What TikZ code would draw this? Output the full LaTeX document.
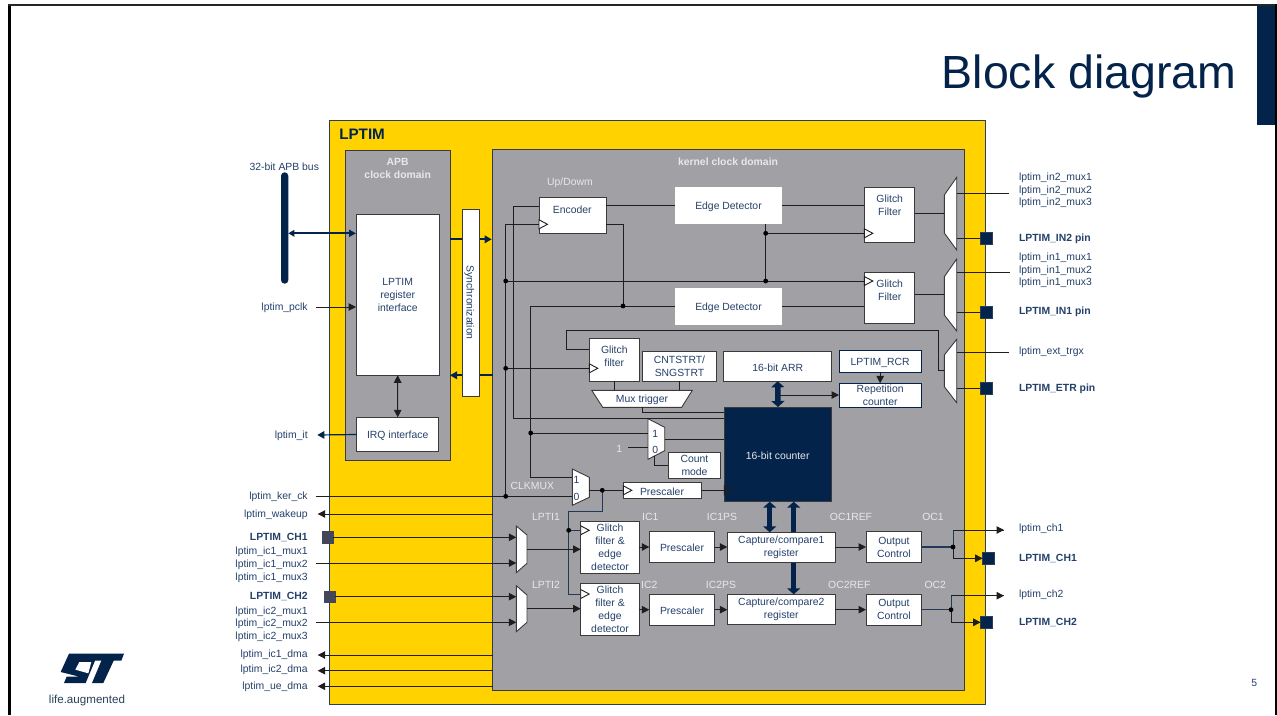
\documentclass[tikz,border=0pt]{standalone}
\usepackage{fontspec}
\setmainfont{Liberation Sans}
\usetikzlibrary{arrows.meta,calc}
\definecolor{navy}{HTML}{03234B}
\definecolor{inktext}{HTML}{24406A}
\definecolor{stgray}{HTML}{A1A0A4}
\definecolor{styellow}{HTML}{FFD200}
\definecolor{ink}{HTML}{1E1E1E}
\definecolor{edge}{HTML}{3A3A3A}
\definecolor{softwhite}{HTML}{E8E8E8}
\definecolor{pingray}{HTML}{44465A}
\tikzset{
  txt/.style={font=\fontsize{10.4}{13}\selectfont,text=inktext,inner sep=0pt,outer sep=0pt,align=center,
    execute at begin node={\rule{0pt}{10pt}},execute at end node={\rule[-.5pt]{0pt}{.5pt}}},
  btxt/.style={txt,font=\fontsize{10.4}{13}\selectfont\bfseries},
  wtxt/.style={txt,text=softwhite},
  wbtxt/.style={btxt,text=softwhite},
  ghost/.style={txt},
  domainbox/.style={fill=stgray,draw=edge,line width=1pt},
  outerbox/.style={fill=styellow,draw=navy!70!gray,line width=.8pt},
  plainbox/.style={txt,fill=white,draw=edge,line width=1pt},
  bareb/.style={txt,fill=white},
  navybox/.style={txt,fill=white,draw=navy,line width=1pt},
  solidbox/.style={fill=navy,draw=edge,line width=.8pt},
  pin/.style={fill=navy,draw=navy!70!gray,line width=.6pt},
  graypin/.style={fill=pingray,draw=pingray,line width=.6pt},
  busbar/.style={fill=navy,rounded corners=3.6pt},
  wire/.style={draw=ink,line width=1pt},
  wireA/.style={wire,-{Triangle[length=7.5pt,width=7.5pt]}},
  wireAA/.style={wire,{Triangle[length=7.5pt,width=7.5pt]}-{Triangle[length=7.5pt,width=7.5pt]}},
  bluewire/.style={draw=navy!75!gray,line width=1pt},
  thick2/.style={draw=navy,line width=1.7pt},
  thick2A/.style={thick2,-{Triangle[length=7pt,width=7.5pt]}},
  thick2AA/.style={thick2,{Triangle[length=6pt,width=6.5pt]}-{Triangle[length=7pt,width=7pt]}},
  fat/.style={draw=navy,line width=5.5pt,{Triangle[length=6pt,width=13pt]}-{Triangle[length=6pt,width=13pt]}},
  muxshape/.style={fill=white,draw=edge,line width=.9pt},
  clkt/.style={fill=white,draw=ink,line width=.9pt},
  clkd/.style={draw=ink,line width=.9pt},
  dot/.style={fill=black},
}
\newcommand{\bx}[7]{%
  \pgfmathsetmacro{\bxcx}{(#3+#5)/2}\pgfmathsetmacro{\bxcy}{(#4+#6)/2}%
  \pgfmathsetmacro{\bxw}{#5-#3}\pgfmathsetmacro{\bxh}{#6-#4}%
  \node[#1,minimum width=\bxw pt,minimum height=\bxh pt,inner sep=0pt,outer sep=0pt] (#2) at (\bxcx,\bxcy) {#7};}
\newcommand{\mx}[7]{%
  \pgfmathsetmacro{\mxt}{min(#4,#6)}\pgfmathsetmacro{\mxb}{max(#5,#7)}%
  \draw[muxshape] (#2,#4) -- (#3,#6) -- (#3,#7) -- (#2,#5) -- cycle;%
  \bx{ghost}{#1}{#2}{\mxt}{#3}{\mxb}{}}
\newcommand{\clk}[1]{\draw[clkt,shift={(#1)}] (0,-4.5) -- (8.5,0) -- (0,4.5) -- cycle;}
\begin{document}
\begin{tikzpicture}[x=1pt,y=-1pt]
\useasboundingbox (0,0) rectangle (1277,715);
\fill[white] (0,0) rectangle (1277,715);
% slide frame
\fill[navy] (1257,6) rectangle (1275,125);
\draw[black,line width=3pt] (9.5,715) -- (9.5,5.2);
\draw[black!85,line width=2.4pt] (8,5.2) -- (1276.5,5.2);
\draw[black,line width=2pt] (1275.8,4) -- (1275.8,715);
\node[font=\fontsize{46.5}{50}\selectfont,text=navy,inner sep=0pt,anchor=base east] (title) at (1236.5,88) {Block diagram};
\node[txt] (pageno) at (1254.3,681.3) {5};
% logo
\begin{scope}[shift={(45,648)},x=.3333pt,y=-.3333pt]
\fill[navy] (72,17) -- (237,17) -- (229,38) -- (150,38) -- (122,105) -- (57,105) -- (65,86) -- (103,86) -- (47,72) -- cycle;
\fill[white] (103,42) -- (91,65) -- (130,76) -- (139,42) -- cycle;
\fill[navy] (170,36) -- (207,36) -- (175,105) -- (141,105) -- cycle;
\node[font=\fontsize{11.6}{12}\selectfont,text=navy!70!gray,inner sep=0pt] (logotext) at (126,157) {life.augmented};
\end{scope}
% containers
\bx{outerbox}{lptim}{329.5}{120}{985.7}{704}{}
\bx{domainbox}{apb}{345.7}{150.7}{450}{460.7}{}
\bx{domainbox}{kernel}{492.7}{149}{964}{690.7}{}
\node[txt,font=\fontsize{15.2}{17}\selectfont\bfseries,text=navy,anchor=west] (lptimT) at (339.3,134.5) {LPTIM};
\node[wbtxt] (apbT) at (397.7,168.8) {APB\\clock domain};
\node[wbtxt] (kernelT) at (728,160.3) {kernel clock domain};
% APB side
\bx{busbar}{bus}{281}{172.3}{288.3}{283.7}{}
\bx{plainbox}{reg}{356}{214.3}{439.3}{375.3}{}
\node[txt] (regT) at (397.7,295.3) {LPTIM\\register\\interface};
\bx{plainbox}{irq}{356.7}{417.3}{438.7}{451.7}{IRQ interface}
\node[txt] (busT) at (284.3,165.3) {32-bit APB bus};
\node[txt,anchor=east] (pclkT) at (307.7,307) {lptim\_pclk};
\coordinate (pclkS) at (315.7,307);
\node[txt,anchor=east] (itT) at (307.7,435) {lptim\_it};
\coordinate (itE) at (317.3,435);
\draw[thick2AA] (bus.east |- 0,233.3) -- (reg.west |- 0,233.3);
\draw[wireA] (pclkS) -- (reg.west |- pclkS);
\draw[wireAA] (reg.south) -- (irq.north);
\draw[thick2A,line width=1.2pt] (irq.west) -- (itE);
% sync
\draw[thick2A] (apb.east |- 0,239.3) -- ($(kernel.west |- 0,239.3)+(-1,0)$);
\draw[thick2A] (kernel.west |- 0,375.3) -- (apb.east |- 0,375.3);
\bx{plainbox}{sync}{462.3}{209.3}{479.3}{396.3}{}
\node[txt,rotate=-90] (syncT) at (470.5,302.7) {Synchronization};
% top blocks
\bx{plainbox}{enc}{539}{197}{606.3}{233.3}{}
\node[txt] (encT) at (572.3,208.3) {Encoder};
\node[wtxt] (updown) at (570,181.3) {Up/Dowm};
\bx{bareb}{edgeA}{675}{187}{782}{224}{Edge Detector}
\bx{bareb}{edgeB}{675}{288}{782}{325}{Edge Detector}
\bx{plainbox}{gfA}{864.3}{187.7}{914.7}{242.7}{}
\node[txt] (gfAT) at (889.7,205.8) {Glitch\\Filter};
\bx{plainbox}{gfB}{864.3}{272.3}{914.7}{323.3}{}
\node[txt] (gfBT) at (889.7,290.7) {Glitch\\Filter};
\mx{muxA}{944.3}{956.7}{195}{233}{177.3}{250}
\mx{muxB}{944.3}{956.7}{276.7}{315}{259}{331}
\mx{muxC}{944.3}{956.7}{355}{386.7}{339.3}{402.7}
\bx{pin}{pinA}{980}{232}{992}{244.7}{}
\bx{pin}{pinB}{980}{306}{992}{318}{}
\bx{pin}{pinC}{980}{382}{992}{394}{}
\node[txt,anchor=west] (a1) at (1019,176.3) {lptim\_in2\_mux1};
\node[txt,anchor=west] (a2) at (1019,189.3) {lptim\_in2\_mux2};
\node[txt,anchor=west] (a3) at (1019,201.3) {lptim\_in2\_mux3};
\node[btxt,anchor=west] (a4) at (1019,237.3) {LPTIM\_IN2 pin};
\node[txt,anchor=west] (b1) at (1019,256.3) {lptim\_in1\_mux1};
\node[txt,anchor=west] (b2) at (1019,269.3) {lptim\_in1\_mux2};
\node[txt,anchor=west] (b3) at (1019,281.3) {lptim\_in1\_mux3};
\node[btxt,anchor=west] (b4) at (1019,310.3) {LPTIM\_IN1 pin};
\node[txt,anchor=west] (c1) at (1019,350.3) {lptim\_ext\_trgx};
\node[btxt,anchor=west] (c4) at (1019,387.3) {LPTIM\_ETR pin};
\coordinate (inA) at (1009,193);
\coordinate (inB) at (1010,272.3);
\coordinate (inC) at (1009,352.3);
\draw[wire] (muxA.east |- inA) -- (inA);
\draw[wire] (muxB.east |- inB) -- (inB);
\draw[wire] (muxC.east |- inC) -- (inC);
\draw[wire] (muxA.east |- pinA) -- (pinA.west);
\draw[wire] (muxB.east |- pinB) -- (pinB.west);
\draw[wire] (muxC.east |- pinC) -- (pinC.west);
\draw[wire] (gfA.east |- 0,213.3) -- (muxA.west |- 0,213.3);
\draw[wire] (gfB.east |- 0,294.7) -- (muxB.west |- 0,294.7);
% middle blocks
\bx{plainbox}{gfC}{589.3}{338.7}{639.7}{381.3}{}
\node[txt] (gfCT) at (614.3,356.8) {Glitch\\filter};
\bx{plainbox}{cnt}{642.7}{351.3}{716.3}{381.3}{CNTSTRT/\\SNGSTRT}
\bx{plainbox}{arr}{723.7}{351.3}{831.7}{381.3}{16-bit ARR}
\bx{navybox}{rcr}{839}{350.3}{921.3}{372}{LPTIM\_RCR}
\bx{navybox}{rep}{839}{383.3}{921.3}{407.3}{Repetition\\counter}
\bx{solidbox}{counter}{724.3}{407}{831.7}{501.7}{}
\node[wtxt] (counterT) at (777.7,454.5) {16-bit counter};
\draw[fill=white,draw=edge,line width=.9pt] (591.7,390.3) -- (692.3,390.3) -- (681.7,407.3) -- (602.7,407.3) -- cycle;
\bx{ghost}{trig}{591.7}{390.3}{692.3}{407.3}{Mux trigger}
\mx{muxD}{648}{664.7}{418.7}{459.3}{427.3}{450.7}
\node[txt] (d1) at (655.3,432.7) {1};
\node[txt] (d0) at (655.3,448.3) {0};
\node[wtxt] (one) at (619.3,447.3) {1};
\bx{plainbox}{mode}{668.3}{452.7}{720.7}{478}{Count\\mode}
\mx{muxE}{572.3}{589.3}{469}{505.3}{477.3}{497.3}
\node[txt] (e1) at (576.5,478.3) {1};
\node[txt] (e0) at (576.5,495.3) {0};
\node[wtxt] (clkmux) at (532.3,485) {CLKMUX};
\bx{plainbox}{preT}{623.3}{482}{701.7}{498.7}{}
\node[txt] (preTT) at (662,491) {Prescaler};
% wires, top half
\coordinate (dA) at (505.7,281);
\coordinate (dB) at (505.7,368.3);
\coordinate (dK) at (505.7,496.3);
\coordinate (dC) at (623,306);
\coordinate (dD) at (765.7,233.3);
\coordinate (dE) at (765.7,281);
\coordinate (dF) at (530.7,433);
\coordinate (dG) at (602.3,490.3);
\coordinate (kerS) at (315.7,496.3);
\draw[wire] (enc.east |- 0,205.7) -- (edgeA.west |- 0,205.7);
\draw[wire] (edgeA.east |- 0,205.7) -- (gfA.west |- 0,205.7);
\draw[wire] (enc.east |- 0,224.3) -| (dC);
\draw[wire] (edgeB.west |- dC) -| (dF) |- (muxE.west |- 0,477.3);
\draw[wire] (edgeB.east |- dC) -- (gfB.west |- dC);
\draw[wire] (enc.west |- 0,206.3) -| (513.7,418) -- (counter.west |- 0,418);
\draw[wire] (enc.west |- 0,224.3) -| (dK);
\draw[wire] (dA) -- (gfB.west |- dA);
\draw[wire] (dD |- edgeA.south) -- (dE);
\draw[wire] (dD) -- (gfA.west |- dD);
\draw[wire] (dB) -- (gfC.west |- dB);
\draw[wire] (gfC.west |- 0,349.3) -| (566.3,330.3) -| (938,370.3) -- (muxC.west |- 0,370.3);
\draw[wire] (gfC.south) -- (trig.north -| gfC.south);
\draw[wire] (cnt.south) -- (trig.north -| cnt.south);
\draw[wire] (trig.south) |- (counter.west |- 0,412.3);
\draw[wire] (dF) -- (muxD.west |- dF);
\draw[wire] (one.east) ++(6,0) -- (muxD.west |- one);
\draw[wire] (muxD.east |- 0,439) -- (counter.west |- 0,439);
\draw[wire] (654.7,456) |- (mode.west |- 0,465);
\draw[wire] (kerS) -- (muxE.west |- kerS);
\draw[wire] (muxE.east |- dG) -- (preT.west |- dG);
\draw[wire] (preT.east |- dG) -- (counter.west |- dG);
\draw[wireA] (rcr.south) -- (rep.north);
\draw[wireA] (777.7,395) -- (rep.west |- 0,395);
\draw[fat] (arr.south) -- (counter.north);
\clk{enc.west |- 0,224.3}
\clk{gfA.west |- dD}
\clk{gfB.west |- dA}
\clk{gfC.west |- dB}
\clk{preT.west |- dG}
\draw[clkd,shift={(counter.west |- dG)}] (0,-4.5) -- (8.5,0) -- (0,4.5) -- cycle;
\node[txt,anchor=east] (kerT) at (307.7,495.3) {lptim\_ker\_ck};
% lower blocks
\bx{plainbox}{geA}{580.7}{521.3}{639.3}{573.3}{}
\node[txt] (geAT) at (610,547.3) {Glitch\\filter \&\\edge\\detector};
\bx{plainbox}{geB}{580.7}{583.3}{639.3}{635.3}{}
\node[txt] (geBT) at (610,609.8) {Glitch\\filter \&\\edge\\detector};
\bx{plainbox}{preA}{649.3}{531.7}{714.7}{562.7}{Prescaler}
\bx{plainbox}{preB}{649.3}{594.3}{714.7}{625}{Prescaler}
\bx{plainbox}{ccB}{727.3}{594.3}{835.3}{624.7}{Capture/compare2\\register}
\draw[fat] (793.7,501.7) -- (793.7,594.3);
\bx{plainbox}{ccA}{727.3}{532.3}{835.3}{562}{Capture/compare1\\register}
\draw[fat] (769.7,501.7) -- (769.7,532.3);
\bx{plainbox}{ocA}{866}{531.7}{921.7}{562.7}{Output\\Control}
\bx{plainbox}{ocB}{866}{594.3}{921.7}{625}{Output\\Control}
\mx{muxF}{516.3}{527}{526}{572.7}{535}{563.3}
\mx{muxG}{516.3}{527}{585.7}{631.7}{595}{622.3}
\bx{graypin}{pinL}{322.3}{531}{333}{543.3}{}
\bx{graypin}{pinM}{324.3}{591}{335.3}{602.7}{}
\bx{pin}{pinR}{982.7}{552}{994}{564}{}
\bx{pin}{pinS}{980.7}{616.3}{992}{628.3}{}
\foreach \nm/\xx/\yy/\tt in {lf/650.3/516/IC1,lg/722/516/IC1PS,lh/851/516/OC1REF,li/933/516/OC1,lj/546/516/LPTI1,lk/546/584/LPTI2,ll/649.3/584/IC2,lm/721/584/IC2PS,ln/849.3/584/OC2REF,lo/935.3/584/OC2}
  {\node[wtxt] (\nm) at (\xx,\yy) {\tt};}
\coordinate (dH) at (568.7,530.3);
\coordinate (dI) at (953,547);
\coordinate (dJ) at (951,609.7);
\coordinate (outA) at (1004,530);
\coordinate (outB) at (1004,595.7);
\draw[bluewire] (dG) |- (dH |- 0,511) -- (dH) |- (geB.west |- 0,594);
\draw[bluewire] (dH) -- (geA.west |- dH);
\clk{geA.west |- dH}
\clk{geB.west |- 0,594}
\draw[wireA] (pinL.east |- 0,537.3) -- (muxF.west |- 0,537.3);
\draw[wireA] (316.3,563) -- (muxF.west |- 0,563);
\draw[wireA] (pinM.east |- 0,596.7) -- (muxG.west |- 0,596.7);
\draw[wireA] (316.3,622.3) -- (muxG.west |- 0,622.3);
\draw[wireA] (muxF.east |- 0,549.3) -- (geA.west |- 0,549.3);
\draw[wireA] (muxG.east |- 0,608.7) -- (geB.west |- 0,608.7);
\draw[wireA] (geA.east |- 0,547) -- (preA.west |- 0,547);
\draw[wireA] (geB.east |- 0,609.7) -- (preB.west |- 0,609.7);
\draw[wireA] (preA.east |- 0,547) -- (ccA.west |- 0,547);
\draw[wireA] (preB.east |- 0,609.7) -- (ccB.west |- 0,609.7);
\draw[wireA] (ccA.east |- 0,547) -- (ocA.west |- 0,547);
\draw[wireA] (ccB.east |- 0,609.7) -- (ocB.west |- 0,609.7);
\draw[bluewire,line width=1.2pt] (ocA.east |- dI) -- (dI);
\draw[bluewire,line width=1.2pt] (ocB.east |- dJ) -- (dJ);
\draw[bluewire] (dI) |- (outA);
\draw[wireA] (dI |- outA) -- (outA);
\draw[wire] (dI) -- (dI |- 0,558.3);
\draw[wireA] (dI |- 0,558.3) -- (pinR.west |- 0,558.3);
\draw[bluewire] (dJ) |- (outB);
\draw[wireA] (dJ |- outB) -- (outB);
\draw[wire] (dJ) -- (dJ |- 0,622.3);
\draw[wireA] (dJ |- 0,622.3) -- (pinS.west |- 0,622.3);
\node[txt,anchor=west] (ch1) at (1019,527.3) {lptim\_ch1};
\node[btxt,anchor=west] (pCH1) at (1019,557.3) {LPTIM\_CH1};
\node[txt,anchor=west] (ch2) at (1019,593.3) {lptim\_ch2};
\node[btxt,anchor=west] (pCH2) at (1019,621.3) {LPTIM\_CH2};
% left labels
\foreach \nm/\yy/\tt in {wk/513.7/lptim\_wakeup,i1/550.7/lptim\_ic1\_mux1,i2/563.3/lptim\_ic1\_mux2,i3/576.3/lptim\_ic1\_mux3,j1/610.3/lptim\_ic2\_mux1,j2/622.3/lptim\_ic2\_mux2,j3/635.3/lptim\_ic2\_mux3,dm1/653.3/lptim\_ic1\_dma,dm2/668.3/lptim\_ic2\_dma,dm3/685.3/lptim\_ue\_dma}
  {\node[txt,anchor=east] (\nm) at (307.7,\yy) {\tt};}
\node[btxt,anchor=east] (pL1) at (307.7,536.3) {LPTIM\_CH1};
\node[btxt,anchor=east] (pL2) at (307.7,595.3) {LPTIM\_CH2};
\foreach \yy in {514,655,670.7,686.3}
  {\draw[wireA] (kernel.west |- 0,\yy) -- (317.7,\yy);}
% junction dots
\foreach \pp in {dA,dB,dK,dC,dD,dE,dF,dG,dH,dI,dJ}
  {\fill[dot] (\pp) circle (2.4);}
\end{tikzpicture}
\end{document}
